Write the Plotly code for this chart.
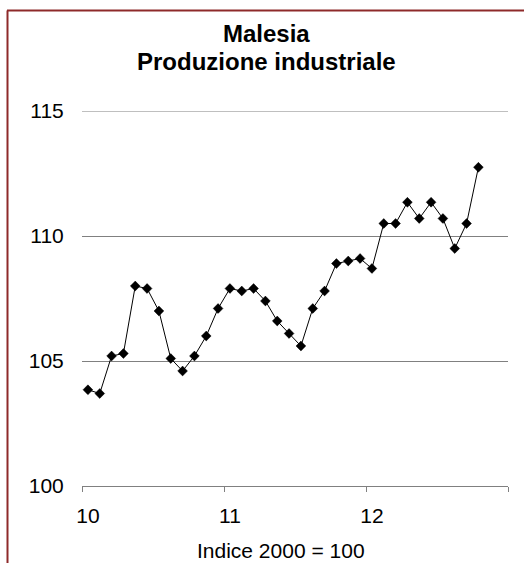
import plotly.graph_objects as go

# Malaysia industrial production index (2000 = 100), monthly Jan 2010 – Oct 2012
month_slots = list(range(34))          # 0 = Jan 2010 ... 33 = Oct 2012
values = [
    103.85, 103.7, 105.2, 105.3, 108.0, 107.9, 107.0, 105.1, 104.6, 105.2, 106.0, 107.1,
    107.9, 107.8, 107.9, 107.4, 106.6, 106.1, 105.6, 107.1, 107.8, 108.9, 109.0, 109.1,
    108.7, 110.5, 110.5, 111.35, 110.7, 111.35, 110.7, 109.5, 110.5, 112.75,
]
year_labels = ["10", "11", "12"]
year_starts = [0, 12, 24]
y_ticks = [100, 105, 110, 115]
title_lines = ["Malesia", "Produzione industriale"]

W, H = 524, 563
L, R, T, B = 82, 16, 111, 77
plot_w, plot_h = W - L - R, H - T - B

def px_x(px):
    return (px - L) / plot_w

def px_y(py):
    return (H - B - py) / plot_h

FONT = "Liberation Sans, Arial, sans-serif"
GRID = "#808080"
FRAME = "#8e2a2a"
TICK_SIZE = 21

fig = go.Figure()
fig.add_trace(go.Scatter(
    x=[m + 0.5 for m in month_slots],   # each point sits mid-slot
    y=values,
    mode="lines+markers",
    line=dict(color="black", width=1),
    marker=dict(symbol="diamond", size=7.5, color="black",
                line=dict(color="black", width=0.5)),
    showlegend=False,
    hoverinfo="skip",
))

annotations = [
    dict(text=f"<b>{line}</b>", xref="paper", yref="paper",
         x=px_x(266), y=px_y(py), xanchor="center", yanchor="middle",
         showarrow=False, font=dict(family=FONT, size=24, color="black"))
    for line, py in zip(title_lines, (33, 62))
]
annotations.append(dict(
    text="Indice 2000 = 100",
    xref="paper", yref="paper",
    x=px_x(281), y=px_y(550),
    xanchor="center", yanchor="middle",
    showarrow=False,
    font=dict(family=FONT, size=TICK_SIZE, color="black"),
))

shapes = [
    # top gridline sits on the range edge, so draw it explicitly
    dict(type="line", xref="paper", yref="y", x0=0, x1=1,
         y0=y_ticks[-1], y1=y_ticks[-1], layer="below",
         line=dict(color=GRID, width=1)),
    # frame of the chart box
    dict(type="line", xref="paper", yref="paper",
         x0=px_x(7), x1=px_x(530), y0=px_y(10.5), y1=px_y(10.5),
         line=dict(color=FRAME, width=2)),
    dict(type="line", xref="paper", yref="paper",
         x0=px_x(7.5), x1=px_x(7.5), y0=px_y(10.5), y1=px_y(570),
         line=dict(color=FRAME, width=2)),
]

fig.update_layout(
    width=W, height=H,
    margin=dict(l=L, r=R, t=T, b=B),
    paper_bgcolor="white",
    plot_bgcolor="white",
    font=dict(family=FONT, size=TICK_SIZE, color="black"),
    xaxis=dict(
        range=[0, 36],
        tickvals=[s + 0.5 for s in year_starts],
        ticktext=year_labels,
        ticks="outside", ticklen=11, tickcolor="rgba(0,0,0,0)",
        showgrid=False, zeroline=False,
        showline=True, linecolor=GRID, linewidth=1,
        minor=dict(tick0=0, dtick=12, ticks="outside", ticklen=5,
                   tickcolor=GRID, tickwidth=1, showgrid=False),
        tickfont=dict(family=FONT, size=TICK_SIZE),
        fixedrange=True,
    ),
    yaxis=dict(
        range=[100, 115],
        tickvals=y_ticks,
        ticks="outside", ticklen=13, tickcolor="rgba(0,0,0,0)",
        showgrid=True, gridcolor=GRID, gridwidth=1,
        zeroline=False, showline=False,
        tickfont=dict(family=FONT, size=TICK_SIZE),
        fixedrange=True,
    ),
    annotations=annotations,
    shapes=shapes,
)

fig.write_html("out.html")
